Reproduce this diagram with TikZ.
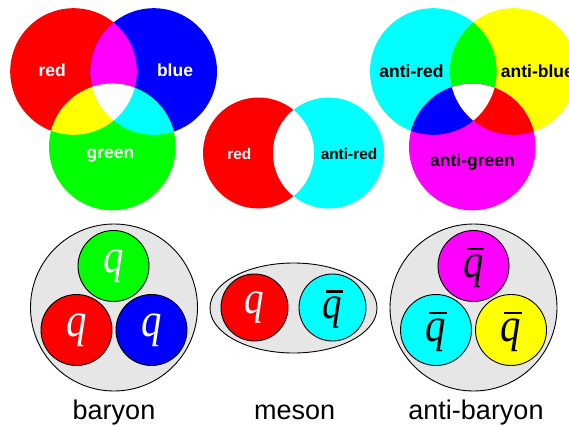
\documentclass[tikz,border=0pt]{standalone}
\usepackage{fontspec}
\setmainfont{Liberation Sans}
\newfontfamily\qfont{Liberation Serif}
\usetikzlibrary{shapes.geometric}
\definecolor{cR}{RGB}{255,0,0}
\definecolor{cG}{RGB}{0,255,0}
\definecolor{cB}{RGB}{0,0,255}
\definecolor{cC}{RGB}{0,255,255}
\definecolor{cM}{RGB}{255,0,255}
\definecolor{cY}{RGB}{255,255,0}
\definecolor{hull}{RGB}{230,230,230}
\newcommand{\qq}{\scalebox{0.85}[1]{\qfont\itshape q}}
\newcommand{\qb}{\scalebox{0.85}[1]{\ooalign{{\qfont\itshape q}\cr\hidewidth\kern0.1em\rule[0.56em]{0.42em}{0.058em}\hidewidth\cr}}}
\begin{document}
\begin{tikzpicture}[x=1pt,y=-1pt,
  vlbl/.style={font=\fontsize{17.5}{20}\selectfont\bfseries, inner sep=0},
  mlbl/.style={font=\fontsize{15.4}{18}\selectfont\bfseries, inner sep=0},
  hullline/.style={draw=black, line width=0.9pt, fill=hull},
  quark/.style={circle, draw=black, line width=0.9pt, inner sep=0, minimum size=71pt, font=\fontsize{48}{48}\selectfont},
  mquark/.style={quark, minimum size=67pt, font=\fontsize{46}{46}\selectfont},
  hadname/.style={font=\fontsize{27}{30}\selectfont, anchor=base, inner sep=0}]
\useasboundingbox (0,0) rectangle (569,425);
% ---- colour venn (top left)
\def\cRed{(73.5,71.5) circle (63.3)}
\def\cBlue{(153.7,71.5) circle (63.3)}
\def\cGreen{(112.3,147) circle (63.3)}
\fill[cR] \cRed;
\fill[cB] \cBlue;
\fill[cG] \cGreen;
\begin{scope}\clip \cRed; \fill[cM] \cBlue; \fill[cY] \cGreen; \end{scope}
\begin{scope}\clip \cBlue; \fill[cC] \cGreen; \end{scope}
\begin{scope}\clip \cRed; \clip \cBlue; \fill[white] \cGreen; \end{scope}
\node[vlbl, text=white] (tred) at (52.3,70) {red};
\node[vlbl, text=white] (tblue) at (175,70) {blue};
\node[vlbl, text=white] (tgreen) at (110.5,156) {green};
% ---- meson venn (middle)
\def\mRed{(258.5,153) circle (55.5)}
\def\mCyan{(328.5,153) circle (55.5)}
\fill[cR] \mRed;
\fill[cC] \mCyan;
\begin{scope}\clip \mRed; \fill[white] \mCyan; \end{scope}
\node[mlbl, text=white] (mred) at (239.3,154) {red};
\node[mlbl, text=black] (manti) at (349,154) {anti-red};
% ---- anti venn (top right)
\def\aC{(433.3,71.5) circle (63.3)}
\def\aY{(513.3,71.5) circle (63.3)}
\def\aM{(472.3,147) circle (63.3)}
\fill[cC] \aC;
\fill[cY] \aY;
\fill[cM] \aM;
\begin{scope}\clip \aC; \fill[cG] \aY; \fill[cB] \aM; \end{scope}
\begin{scope}\clip \aY; \fill[cR] \aM; \end{scope}
\begin{scope}\clip \aC; \clip \aY; \fill[white] \aM; \end{scope}
\node[vlbl] (ared) at (411.5,71.5) {anti-red};
\node[vlbl, anchor=west] (ablue) at (500.7,71.5) {anti-blue};
\node[vlbl] (agreen) at (472.5,162) {anti-green};
% ---- baryon
\node[circle, hullline, minimum size=167pt, inner sep=0] (bar) at (114,307.5) {};
\node[quark, fill=cG, text=white] (bq1) at (113.5,266) {\qq};
\node[quark, fill=cR, text=white] (bq2) at (76.5,330) {\qq};
\node[quark, fill=cB, text=white] (bq3) at (151.5,330) {\qq};
% ---- meson
\node[ellipse, hullline, minimum width=167pt, minimum height=90pt, inner sep=0] (mes) at (293.5,308) {};
\node[mquark, fill=cR, text=white] (mq1) at (254.5,307.5) {\qq};
\node[mquark, fill=cC, text=black] (mq2) at (332.5,307.5) {\qb};
% ---- anti-baryon
\node[circle, hullline, minimum size=167pt, inner sep=0] (abar) at (473.5,307.5) {};
\node[quark, fill=cM, text=black] (aq1) at (473.5,266) {\qb};
\node[quark, fill=cC, text=black] (aq2) at (436,330) {\qb};
\node[quark, fill=cY, text=black] (aq3) at (511,330) {\qb};
% ---- names
\node[hadname] (nb) at (114,419.5) {baryon};
\node[hadname] (nm) at (294.7,419.5) {meson};
\node[hadname] (na) at (476,419.5) {anti-baryon};
\end{tikzpicture}
\end{document}
